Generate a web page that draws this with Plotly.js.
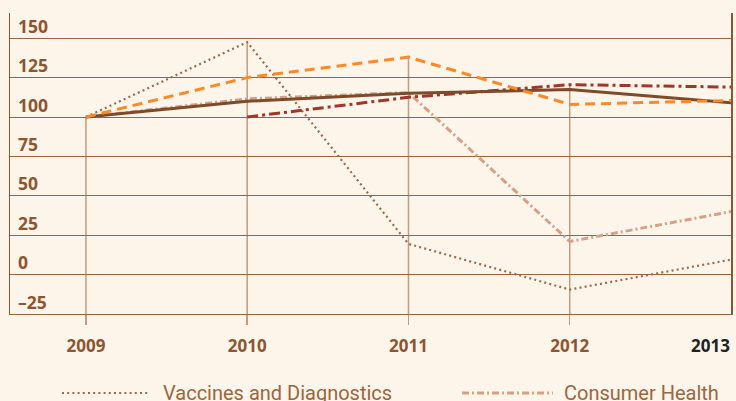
<!DOCTYPE html>
<html>
<head>
<meta charset="utf-8">
<script src="https://cdn.plot.ly/plotly-3.0.1.min.js"></script>
<style>
  html, body { margin: 0; padding: 0; background: #fdf5ea; }
  #chart { width: 736px; height: 401px; }
</style>
</head>
<body>
<div id="chart"></div>
<script>
// ---- data (index, 2009 = 100) ----
var years = [2009, 2010, 2011, 2012, 2013];
var yearLabels = ['2009', '2010', '2011', '2012', '2013'];
var vaccines = [100, 147.5, 19.5, -9.5, 9.5];
var consumerHealth = [100, 111.5, 115.5, 21, 40];
var orangeSeries = [100, 125, 138, 108, 110.5];
var solidSeries = [100, 110, 115, 117.5, 109];
var redSeries = [null, 100, 112.5, 120.5, 119];
var yTicks = [-25, 0, 25, 50, 75, 100, 125, 150];
var yTickText = ['\u201325', '0', '25', '50', '75', '100', '125', '150'];
var legendNames = ['Vaccines and Diagnostics', 'Consumer Health'];

var BROWN = '#8e5530';
var GRID = '#9a6440';
var DROP = '#c19c80';

var styles = {
  vaccines: {color: '#9b6a4c', width: 2.2, dash: '2px,3.2px'},
  consumer: {color: '#d4a188', width: 3, dash: '7px,3px,2px,3px'},
  orange: {color: '#f78b2b', width: 3, dash: '10px,6px'},
  solid: {color: '#7d4a2a', width: 3, dash: 'solid'},
  red: {color: '#a2352b', width: 3, dash: '11px,4px,3px,4px'}
};

function tr(name, ys, st) {
  return {
    type: 'scatter', mode: 'lines', name: name, x: years, y: ys,
    line: {color: st.color, width: st.width, dash: st.dash},
    connectgaps: false, hoverinfo: 'x+y', showlegend: false
  };
}

var traces = [
  tr(legendNames[1], consumerHealth, styles.consumer),
  tr(legendNames[0], vaccines, styles.vaccines),
  tr('Series 5', redSeries, styles.red),
  tr('Series 4', solidSeries, styles.solid),
  tr('Series 3', orangeSeries, styles.orange)
];

// drop lines from each year's highest value down to the axis
var allSeries = [vaccines, consumerHealth, orangeSeries, solidSeries, redSeries];
var shapes = [];
for (var i = 0; i < years.length - 1; i++) {
  var mx = -Infinity;
  allSeries.forEach(function (s) { if (s[i] !== null && s[i] > mx) mx = s[i]; });
  shapes.push({type: 'line', xref: 'x', yref: 'y', x0: years[i], x1: years[i], y0: mx, y1: yTicks[0],
               line: {color: DROP, width: 1.5}, layer: 'below'});
}

// manual legend (long samples like the original)
var legendY = -0.2625;
var legendItems = [
  {name: legendNames[0], st: styles.vaccines, x0: 0.0721, x1: 0.194, tx: 0.2094},
  {name: legendNames[1], st: styles.consumer, x0: 0.627, x1: 0.753, tx: 0.7656}
];
legendItems.forEach(function (it) {
  shapes.push({type: 'line', xref: 'paper', yref: 'paper', x0: it.x0, x1: it.x1, y0: legendY, y1: legendY,
               line: {color: it.st.color, width: it.st.width, dash: it.st.dash}});
});

var annotations = [];
yTicks.forEach(function (v, k) {
  annotations.push({xref: 'paper', yref: 'y', x: 0, y: v, xanchor: 'left', yanchor: 'middle',
    xshift: 6, yshift: 12.5, showarrow: false, text: yTickText[k],
    font: {family: 'Open Sans, sans-serif', size: 17.5, color: BROWN, weight: 700}});
});
annotations.push({xref: 'paper', yref: 'paper', x: 1, y: -0.1063, xanchor: 'right', yanchor: 'middle',
  showarrow: false, text: yearLabels[4], xshift: 1,
  font: {family: 'Open Sans, sans-serif', size: 17, color: '#222222', weight: 700}});
legendItems.forEach(function (it) {
  annotations.push({xref: 'paper', yref: 'paper', x: it.tx, y: legendY, xanchor: 'left', yanchor: 'middle',
    showarrow: false, text: it.name, yshift: 0,
    font: {family: 'Roboto, sans-serif', size: 20, color: '#9a6640'}});
});

var layout = {
  width: 736, height: 401,
  margin: {l: 10, r: 5, t: 13, b: 87},
  paper_bgcolor: '#fdf5ea', plot_bgcolor: '#fdf5ea',
  showlegend: false,
  xaxis: {
    range: [2008.529, 2013.0], showgrid: false, zeroline: false,
    tickvals: years.slice(0, 4), ticktext: yearLabels.slice(0, 4),
    ticks: 'outside', ticklen: 10, tickwidth: 1.5, tickcolor: DROP,
    showline: true, linecolor: GRID, linewidth: 1,
    tickfont: {family: 'Open Sans, sans-serif', size: 17, color: BROWN, weight: 700},
    ticklabelstandoff: 7, fixedrange: true
  },
  yaxis: {
    range: [-25, 166], tickvals: yTicks, showticklabels: false, ticks: '',
    showgrid: true, gridcolor: GRID, gridwidth: 1, zeroline: false,
    showline: true, mirror: true, linecolor: BROWN, linewidth: 1.5, fixedrange: true
  },
  shapes: shapes,
  annotations: annotations
};

Plotly.newPlot('chart', traces, layout, {displayModeBar: false, staticPlot: true});
</script>
</body>
</html>
